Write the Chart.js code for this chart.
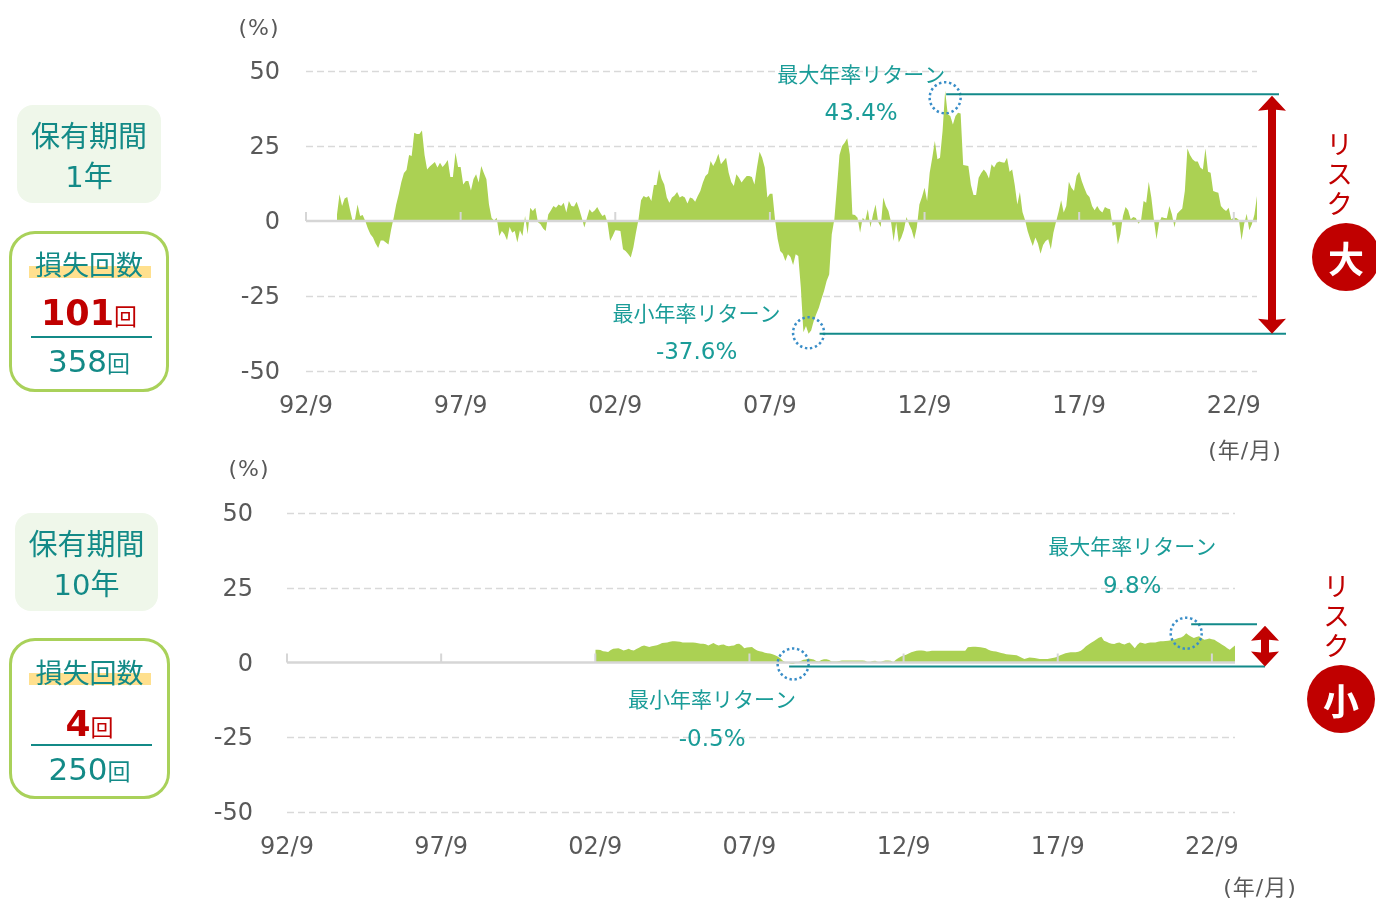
<!DOCTYPE html>
<html lang="ja">
<head>
<meta charset="utf-8">
<title>保有期間別 年率リターン</title>
<script src="https://cdn.jsdelivr.net/npm/chart.js@4.4.1/dist/chart.umd.min.js"></script>
<style>
  html, body { margin: 0; padding: 0; background: #fff; }
  body { position: relative; width: 1376px; height: 900px; overflow: hidden;
         font-family: 'DejaVu Sans', 'Noto Sans CJK JP', sans-serif; }
  canvas { position: absolute; left: 0; }
  #chart1 { top: 0; }
  #chart2 { top: 455px; }
  .unit { position: absolute; color: #595959; font-size: 22px; line-height: 1; letter-spacing: 1px;
          transform: translate(-50%, -50%); white-space: nowrap; }
  .period { position: absolute; background: #eff7ea; border-radius: 16px; color: #138a87; }
  .loss { position: absolute; box-sizing: border-box; border: 3px solid #a9d15a; border-radius: 26px; color: #138a87; }
  .ln { position: absolute; left: 0; right: 0; text-align: center; line-height: 1; transform: translateY(-50%); white-space: nowrap; }
  .jp { font-family: 'Noto Sans CJK JP', sans-serif; }
  .hl { position: absolute; height: 12px; background: #ffe08e; }
  .rule { position: absolute; height: 2px; background: #138a87; }
  .red { color: #c00000; }
  .risk { position: absolute; color: #c00000; font-family: 'Noto Sans CJK JP', sans-serif; font-size: 27px;
          writing-mode: vertical-rl; letter-spacing: 3px; line-height: 1; }
  .badge { position: absolute; width: 68px; height: 68px; border-radius: 50%; background: #c00000; color: #fff;
           font-family: 'Noto Sans CJK JP', sans-serif; font-weight: bold; font-size: 36px;
           display: flex; align-items: center; justify-content: center; }
</style>
</head>
<body>
<canvas id="chart1" width="1376" height="455"></canvas>
<canvas id="chart2" width="1376" height="445"></canvas>

<div class="unit" style="left:259px;top:28px">(%)</div>
<div class="unit" style="left:1245px;top:449px">(<span class="jp">年</span>/<span class="jp">月</span>)</div>
<div class="unit" style="left:249px;top:469px">(%)</div>
<div class="unit" style="left:1260px;top:886px">(<span class="jp">年</span>/<span class="jp">月</span>)</div>

<!-- 1年 -->
<div class="period" style="left:17px;top:105px;width:144px;height:98px">
  <div class="ln jp" style="top:29px;font-size:29px">保有期間</div>
  <div class="ln" style="top:71px;font-size:29px">1<span class="jp">年</span></div>
</div>
<div class="loss" style="left:9px;top:231px;width:160px;height:161px">
  <div class="hl" style="left:17px;top:32px;width:122px"></div>
  <div class="ln jp" style="top:29px;font-size:27px">損失回数</div>
  <div class="ln red" style="top:79px"><b style="font-size:35px">101</b><span class="jp" style="font-size:23px">回</span></div>
  <div class="rule" style="left:19px;top:102px;width:121px"></div>
  <div class="ln" style="top:127px;font-size:31px">358<span class="jp" style="font-size:23px">回</span></div>
</div>

<!-- 10年 -->
<div class="period" style="left:15px;top:513px;width:143px;height:98px">
  <div class="ln jp" style="top:29px;font-size:29px">保有期間</div>
  <div class="ln" style="top:71px;font-size:29px">10<span class="jp">年</span></div>
</div>
<div class="loss" style="left:9px;top:638px;width:161px;height:161px">
  <div class="hl" style="left:17px;top:32px;width:122px"></div>
  <div class="ln jp" style="top:30px;font-size:27px">損失回数</div>
  <div class="ln red" style="top:83px"><b style="font-size:36px">4</b><span class="jp" style="font-size:23px">回</span></div>
  <div class="rule" style="left:19px;top:103px;width:121px"></div>
  <div class="ln" style="top:128px;font-size:31px">250<span class="jp" style="font-size:23px">回</span></div>
</div>

<div class="risk" style="left:1326px;top:130px">リスク</div>
<div class="badge" style="left:1312px;top:223px">大</div>
<div class="risk" style="left:1323px;top:572px">リスク</div>
<div class="badge" style="left:1307px;top:665px">小</div>

<script>
// 月次の年率リターン(%)、起点 92/9 からの月数で位置合わせ
const firstMonth = { year: 1992, month: 9 };
const monthCount = 370; // 92/9 ～ 23/6

// 保有期間1年:93/9 ～ 23/6(358回)
const ret1yStart = 12;
const ret1y = [
  2, 8.9, 5, 7.5, 8, 4, 0.3, 0.5, 5.5, 1.7, 2, 0,
  -2.5, -4.4, -5.5, -7.5, -9, -6.5, -6.5, -7.2, -7.8, -3, 1, 5.5,
  9, 13, 16, 17, 22, 21.7, 29.4, 29, 29, 30.2, 22, 17.2,
  18.2, 18.9, 19.7, 17.8, 19.4, 18, 19, 20.3, 14.7, 14.7, 22.8, 18,
  18, 12.2, 13.3, 13.3, 10.2, 14, 15.6, 12.8, 18.3, 16, 13.9, 5.5,
  1, 0.2, 1.1, -5, -3.3, -4.4, -6.4, -2, -3.9, -3.3, -7.2, -3.1,
  -5, 1.7, -4.4, 4.4, 3.3, 4.4, -0.4, -1.1, -2.5, -3.3, 2.2, 3.5,
  5, 4.4, 5.5, 5, 6.1, 2.8, 6.7, 5, 4.8, 6.4, 4, 1.1,
  -2.2, 1, 3.9, 2.8, 3.5, 4.7, 3, 1.7, 2.2, -0.6, -6.7, -5,
  -3.1, -3.2, -3.3, -9.4, -10, -11, -12.2, -8.9, -4, 0.4, 6.9, 8.3,
  7.8, 8.3, 6.7, 12, 12, 17.2, 14, 12.2, 7.8, 6.1, 7.8, 8.5,
  9.7, 7.8, 8.3, 7.8, 5.8, 7.8, 7.5, 6.4, 8.3, 10, 12.8, 15,
  15.8, 20, 18.3, 20, 22.4, 18.9, 20, 21.1, 16.1, 13, 11.7, 15.6,
  14.4, 12.8, 14, 15, 15, 14.7, 12.2, 18, 23.1, 21.1, 17.8, 7.8,
  9.1, 9.1, 0.3, -6, -10, -10.9, -13.3, -11.1, -12, -14.7, -11.1, -11.7,
  -22.2, -37.1, -35, -37.6, -36.5, -33.3, -31, -28.9, -26, -23.3, -20, -17.8,
  -4.4, 0.5, 11.1, 22, 25, 26.1, 27.6, 22.2, 2.2, 2, 1.1, -3.9,
  1.1, 0.2, 3.9, -2.2, 2.2, 5.5, -0.3, -2, 7.8, 5, 3.3, -0.3,
  -6.7, -0.6, -7.2, -5.5, -3, 1.3, -1.1, -3, -6.1, -2.2, 5.5, 8,
  11.1, 6.7, 16.1, 21.1, 26.7, 20.6, 21.1, 30, 43.4, 35.6, 35, 32.2,
  35, 36.1, 35.8, 18.7, 18.5, 18.3, 12, 8.7, 8.7, 14.4, 16, 17.2,
  16.1, 14.2, 18.9, 17.8, 19.4, 19.8, 19.6, 19.4, 21.1, 16.4, 17.2, 12,
  5.5, 9.7, 3, 0.3, -3.3, -6, -8.3, -5.5, -7.5, -10.9, -8, -6.7,
  -6.1, -9.4, -3.9, -0.3, 3, 6.9, 2.8, 5, 13.1, 11.1, 10, 15,
  16.4, 13.3, 11, 8.9, 8, 5, 3.6, 5, 3.6, 2.8, 4.7, 4.2,
  3.9, -1.7, -1.1, -7.8, -4.4, 1.7, 4.7, 3.6, 0.6, 1.3, 1, -0.9,
  0.2, 6.7, 6.1, 13.1, 7.8, 0.3, -6.1, -0.6, 1.3, 1, 0.9, 5,
  2.2, -2.2, 2.4, 3.3, 4.2, 10, 24.2, 22, 20.6, 19.8, 19.8, 17.8,
  17.2, 24.2, 16.4, 16.1, 10, 9.7, 9.4, 5, 4, 3.3, 4.4, 0.6,
  1.1, 1, 0.3, -6.4, -1.1, 2.4, -3.1, -1.1, 2.2, 8.3
];

// 保有期間10年:02/9 ～ 23/6(250回)
const ret10yStart = 120;
const ret10y = [
  4.3, 4.3, 4.2, 3.8, 3.7, 3.5, 4.2, 4.6, 4.7, 4.8, 4.4, 4,
  4.3, 4.6, 4.2, 4, 4.5, 4.9, 5.4, 5.7, 5.4, 5.2, 5.4, 5.6,
  5.8, 6.1, 6.5, 6.6, 6.7, 6.9, 7.1, 7.1, 7, 6.9, 6.7, 6.7,
  6.7, 6.7, 6.7, 6.6, 6.4, 6.3, 6.3, 6.1, 5.7, 6.1, 6.5, 6,
  5.7, 5.9, 6, 5.6, 5.4, 5.6, 5.7, 6.2, 6.3, 5.7, 4.8, 5,
  5.1, 5.2, 4.5, 4, 3.8, 3.6, 3.3, 3.1, 3, 2.8, 2.4, 2,
  1.4, 0.6, 0.1, -0.1, -0.4, -0.5, -0.2, 0.2, 0.5, 0.9, 1, 1.3,
  1.2, 1, 0.5, 0.3, 0.8, 1.1, 1.1, 0.8, 0.3, 0.3, 0.3, 0.5,
  0.7, 0.7, 0.7, 0.7, 0.7, 0.7, 0.7, 0.7, 0.7, 0.6, 0.1, 0.2,
  0.5, 0.6, 0.2, 0.1, 0.5, 0.7, 0.7, 0.6, 0.1, 0.9, 1.5, 2,
  2.3, 2.6, 3, 3.4, 3.7, 3.9, 4, 4, 3.9, 3.7, 3.8, 3.9,
  3.9, 3.9, 3.9, 3.9, 3.9, 3.9, 3.9, 3.9, 3.9, 3.9, 3.9, 3.9,
  3.9, 5.1, 5.2, 5.3, 5.3, 5.2, 5.1, 4.9, 4.8, 4.3, 3.9, 3.8,
  3.7, 3.4, 3.2, 3, 2.8, 2.7, 2.6, 2.5, 2.4, 2, 1.6, 1.2,
  1.4, 1.7, 1.6, 1.5, 1.3, 1.2, 1.2, 1.2, 1.2, 1.3, 1.5, 1.7,
  2, 2.4, 2.8, 3.1, 3.3, 3.4, 3.4, 3.4, 3.6, 3.9, 4.6, 5.4,
  6, 6.6, 7.1, 7.7, 8.3, 8.6, 7.3, 6.9, 6.5, 6.3, 6.2, 6.5,
  6.7, 6.3, 6, 6.4, 6.7, 5.8, 4.8, 5.9, 6.7, 6.5, 6.3, 6.5,
  6.7, 6.7, 6.7, 6.9, 7.1, 7.1, 7.2, 7.3, 7.4, 7.6, 7.9, 8.2,
  8.4, 8.9, 9.8, 9.1, 8.6, 8.2, 8.5, 8.8, 8.2, 7.6, 7.8, 8,
  7.8, 7.6, 7, 6.5, 5.9, 5.4, 4.8, 4.3, 5, 5.7
];

const tickLabels = ['92/9', '97/9', '02/9', '07/9', '12/9', '17/9', '22/9'];
const yTicks = [50, 25, 0, -25, -50];
const maxLabel = '最大年率リターン';
const minLabel = '最小年率リターン';

const GREEN = '#abd153';
const TEAL_TEXT = '#1a9c98';
const TEAL_LINE = '#138a8a';
const RED = '#c00000';

Chart.defaults.font.family = "'DejaVu Sans', 'Noto Sans CJK JP', sans-serif";

// 月ラベル(yy/m)
const months = [];
for (let i = 0; i < monthCount; i++) {
  const t = firstMonth.year * 12 + (firstMonth.month - 1) + i;
  const yy = String(Math.floor(t / 12) % 100).padStart(2, '0');
  months.push(yy + '/' + (t % 12 + 1));
}

function drawExtreme(ctx, chart, o, label, idx, val) {
  const { chartArea: a, scales: { x, y } } = chart;
  const px = x.getPixelForValue(idx);
  const py = y.getPixelForValue(val);
  ctx.save();
  ctx.strokeStyle = '#3a8ec8';
  ctx.lineWidth = 2.5;
  ctx.setLineDash([2.4, 2.7]);
  ctx.beginPath();
  ctx.arc(px, py + o.cdy, 15.5, 0, Math.PI * 2);
  ctx.stroke();
  ctx.restore();

  const ly = py + o.ldy;
  ctx.strokeStyle = TEAL_LINE;
  ctx.lineWidth = 2;
  ctx.beginPath();
  ctx.moveTo(px + o.lx0, ly);
  ctx.lineTo(a.right + o.lx1, ly);
  ctx.stroke();

  ctx.fillStyle = TEAL_TEXT;
  ctx.textAlign = 'center';
  ctx.textBaseline = 'middle';
  ctx.font = "21px 'Noto Sans CJK JP'";
  ctx.fillText(label, px + o.tx, py + o.ty1);
  ctx.font = "23px 'DejaVu Sans'";
  ctx.fillText(val.toFixed(1) + '%', px + o.tx, py + o.ty2);
  return ly;
}

function drawArrow(ctx, ax, y1, y2) {
  const hw = 14, hh = 15, sw = 4;
  ctx.fillStyle = RED;
  ctx.beginPath();
  ctx.moveTo(ax, y1);
  ctx.lineTo(ax + hw, y1 + hh);
  ctx.lineTo(ax + sw, y1 + hh - 1);
  ctx.lineTo(ax + sw, y2 - hh + 1);
  ctx.lineTo(ax + hw, y2 - hh);
  ctx.lineTo(ax, y2);
  ctx.lineTo(ax - hw, y2 - hh);
  ctx.lineTo(ax - sw, y2 - hh + 1);
  ctx.lineTo(ax - sw, y1 + hh - 1);
  ctx.lineTo(ax - hw, y1 + hh);
  ctx.closePath();
  ctx.fill();
}

const decoPlugin = {
  id: 'deco',
  beforeDatasetsDraw(chart) {
    const { ctx, chartArea: a, scales: { y } } = chart;
    ctx.save();
    ctx.strokeStyle = '#d9d9d9';
    ctx.lineWidth = 1.5;
    ctx.setLineDash([7, 4]);
    yTicks.forEach(v => {
      if (v === 0) return;
      const py = Math.round(y.getPixelForValue(v)) + 0.5;
      ctx.beginPath();
      ctx.moveTo(a.left, py);
      ctx.lineTo(a.right, py);
      ctx.stroke();
    });
    ctx.restore();
  },
  afterDatasetsDraw(chart, args, o) {
    const { ctx, chartArea: a, scales: { x, y } } = chart;
    const y0 = y.getPixelForValue(0);
    ctx.save();
    ctx.strokeStyle = '#d6d6d6';
    ctx.lineWidth = 2.5;
    ctx.beginPath();
    ctx.moveTo(a.left, y0);
    ctx.lineTo(a.right, y0);
    ctx.stroke();
    ctx.lineWidth = 2;
    tickLabels.forEach(l => {
      const px = x.getPixelForValue(months.indexOf(l));
      ctx.beginPath();
      ctx.moveTo(px, y0);
      ctx.lineTo(px, y0 - 9);
      ctx.stroke();
    });

    const vals = o.values;
    let iMax = 0, iMin = 0;
    vals.forEach((v, i) => { if (v > vals[iMax]) iMax = i; if (v < vals[iMin]) iMin = i; });
    const yHi = drawExtreme(ctx, chart, o.max, maxLabel, o.start + iMax, vals[iMax]);
    const yLo = drawExtreme(ctx, chart, o.min, minLabel, o.start + iMin, vals[iMin]);
    drawArrow(ctx, a.right + o.arrowDx, yHi + 1.5, yLo);
    ctx.restore();
  }
};

function makeChart(id, values, start, lay, deco) {
  const data = new Array(start).fill(null).concat(values);
  return new Chart(document.getElementById(id), {
    type: 'line',
    data: {
      labels: months,
      datasets: [{
        data: data,
        fill: 'origin',
        backgroundColor: GREEN,
        borderWidth: 0,
        pointRadius: 0,
        tension: 0
      }]
    },
    options: {
      responsive: false,
      animation: false,
      events: [],
      layout: { padding: { left: 0, right: lay.right, top: lay.top, bottom: 0 } },
      plugins: { legend: { display: false }, tooltip: { enabled: false }, deco: deco },
      scales: {
        x: {
          grid: { display: false, drawTicks: false },
          border: { display: false },
          afterFit: s => { s.height = lay.xHeight; },
          ticks: {
            autoSkip: false, maxRotation: 0, minRotation: 0,
            padding: 21, color: '#595959', font: { size: 24 },
            callback: function (v) {
              const l = this.getLabelForValue(v);
              return tickLabels.includes(l) ? l : '';
            }
          }
        },
        y: {
          min: -50, max: 50,
          grid: { display: false, drawTicks: false },
          border: { display: false },
          afterFit: s => { s.width = lay.yWidth; },
          ticks: { stepSize: 25, padding: lay.yPad, labelOffset: 2, color: '#595959', font: { size: 24 } }
        }
      }
    },
    plugins: [decoPlugin]
  });
}

makeChart('chart1', ret1y, ret1yStart,
  { right: 119, top: 71, xHeight: 84, yWidth: 306, yPad: 26 },
  {
    values: ret1y, start: ret1yStart,
    max: { cdy: 7, ldy: 3.5, lx0: 1, lx1: 22, tx: -84, ty1: -17, ty2: 23 },
    min: { cdy: -1, ldy: 0, lx0: 11, lx1: 29, tx: -112, ty1: -21, ty2: 19 },
    arrowDx: 15
  });

makeChart('chart2', ret10y, ret10yStart,
  { right: 141, top: 58, xHeight: 88, yWidth: 287, yPad: 34 },
  {
    values: ret10y, start: ret10yStart,
    max: { cdy: 0, ldy: -9, lx0: 5, lx1: 22, tx: -54, ty1: -87, ty2: -46 },
    min: { cdy: 0, ldy: 2.5, lx0: -4, lx1: 30, tx: -81, ty1: 35, ty2: 76 },
    arrowDx: 30
  });
</script>
</body>
</html>
